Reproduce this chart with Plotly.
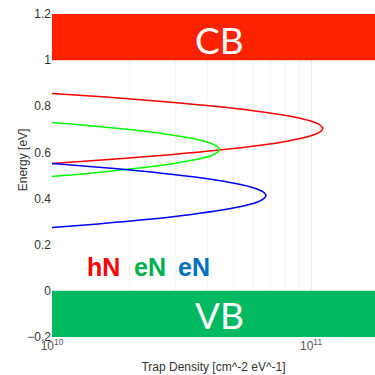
import plotly.graph_objects as go

# Trap density distributions (energy in eV, density in cm^-2 eV^-1)
red_E = [0.86, 0.84, 0.82, 0.80, 0.78, 0.76, 0.74, 0.72, 0.704, 0.69, 0.67, 0.65, 0.63, 0.61, 0.59, 0.57, 0.55]
red_N = [8.81e9, 1.62e10, 2.73e10, 4.25e10, 6.08e10, 8.0e10, 9.69e10, 1.08e11, 1.11e11, 1.087e11, 9.84e10,
         8.19e10, 6.28e10, 4.43e10, 2.87e10, 1.71e10, 9.4e9]

green_E = [0.74, 0.72, 0.70, 0.68, 0.66, 0.64, 0.613, 0.59, 0.57, 0.55, 0.53, 0.51, 0.49]
green_N = [7.66e9, 1.275e10, 1.945e10, 2.72e10, 3.49e10, 4.10e10, 4.44e10, 4.19e10, 3.63e10, 2.88e10,
           2.09e10, 1.40e10, 8.53e9]

blue_E = [0.57, 0.55, 0.53, 0.51, 0.49, 0.47, 0.45, 0.43, 0.413, 0.39, 0.37, 0.35, 0.33, 0.31, 0.29, 0.27]
blue_N = [5.9e9, 1.06e10, 1.74e10, 2.65e10, 3.74e10, 4.86e10, 5.86e10, 6.51e10, 6.70e10, 6.36e10, 5.58e10,
          4.53e10, 3.40e10, 2.36e10, 1.51e10, 8.95e9]

# Bands
cb_bottom, cb_top = 1.0, 1.2
vb_top, vb_bottom = 0.0, -0.2
band_labels = ["CB", "VB"]

legend_labels = ["hN", "eN", "eN"]
legend_colors = ["#ff0000", "#00b050", "#0070c0"]

x_ticks = [1e10, 1e11]
x_ticktext = ["10<sup>10</sup>", "10<sup>11</sup>"]
x_minor = [2e10, 3e10, 4e10, 5e10, 6e10, 7e10, 8e10, 9e10]

fig = go.Figure()
for E, N, c in [(red_E, red_N, "#ff0000"), (green_E, green_N, "#00ff00"), (blue_E, blue_N, "#0000ff")]:
    fig.add_trace(go.Scatter(x=N, y=E, mode="lines", line=dict(color=c, width=1.5, shape="spline"),
                             showlegend=False, hoverinfo="skip"))

fig.add_shape(type="rect", xref="paper", yref="y", x0=0, x1=1, y0=cb_bottom, y1=cb_top,
              fillcolor="#ff2200", line=dict(width=0), layer="above")
fig.add_shape(type="rect", xref="paper", yref="y", x0=0, x1=1, y0=vb_bottom, y1=vb_top,
              fillcolor="#00b960", line=dict(width=0), layer="above")

fig.add_annotation(text=band_labels[0], xref="paper", yref="y", x=0.52, xanchor="center",
                   y=(cb_bottom + cb_top) / 2, showarrow=False,
                   font=dict(family="Lato", size=37, color="white"), yshift=-2)
fig.add_annotation(text=band_labels[1], xref="paper", yref="y", x=0.52, xanchor="center",
                   y=(vb_bottom + vb_top) / 2, showarrow=False,
                   font=dict(family="Lato", size=37, color="white"), yshift=-1)

for lab, col, xp in zip(legend_labels, legend_colors, [0.158, 0.302, 0.440]):
    fig.add_annotation(text="<b>" + lab + "</b>", xref="paper", yref="y", x=xp, xanchor="center",
                       y=0.105, showarrow=False,
                       font=dict(family="Liberation Sans", size=25, color=col))

# y-axis title placed close to the tick labels, as in the reference
fig.add_annotation(text="Energy [eV]", xref="paper", yref="paper", x=-0.09, y=0.55,
                   xanchor="center", yanchor="middle", textangle=-90, showarrow=False,
                   font=dict(family="Liberation Sans", size=12, color="#333333"))

fig.update_layout(
    width=375, height=375,
    margin=dict(l=52, r=0, t=14, b=38),
    paper_bgcolor="white", plot_bgcolor="white",
    font=dict(family="Liberation Sans", size=12, color="#333333"),
)
fig.update_xaxes(type="log", range=[10, 11.247], tickvals=x_ticks, ticktext=x_ticktext,
                 showgrid=True, gridcolor="#ececec", zeroline=False, showline=False,
                 minor=dict(tickvals=x_minor, showgrid=True, gridcolor="#f3f3f3", ticklen=0),
                 title=dict(text="Trap Density [cm^-2 eV^-1]", standoff=10, font=dict(size=12)),
                 tickfont=dict(size=12, color="#555555"))
fig.update_yaxes(range=[-0.2, 1.2], dtick=0.2, showgrid=False, zeroline=False, showline=False,
                 tickfont=dict(size=12, color="#333333"))

fig.write_html("out.html")
